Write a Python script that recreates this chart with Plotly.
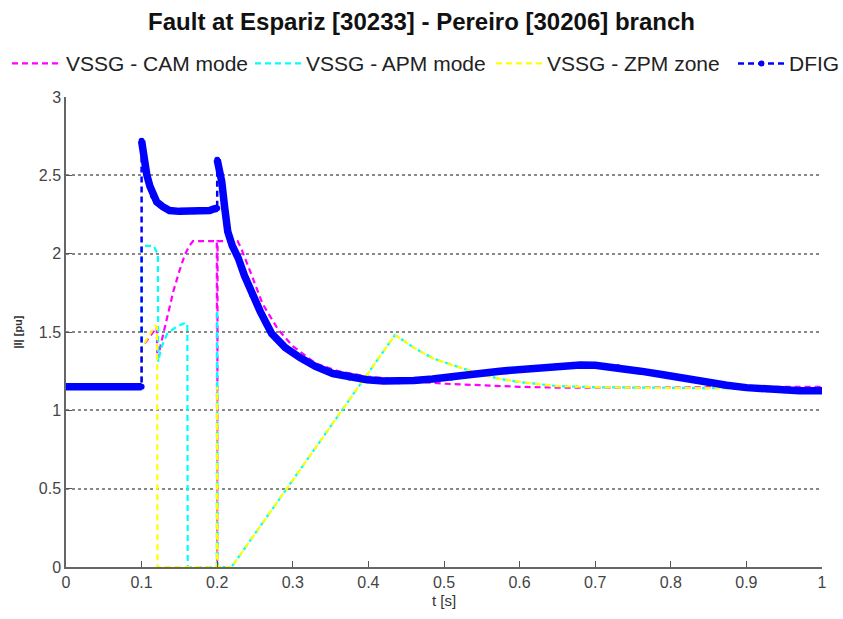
import plotly.graph_objects as go

# VSSG - CAM mode
t_cam = [0.0, 0.1, 0.1, 0.12, 0.121, 0.124, 0.133, 0.142, 0.15, 0.157, 0.163, 0.168,
         0.1995, 0.2, 0.2005, 0.227, 0.232, 0.237, 0.245, 0.26, 0.28, 0.3, 0.33, 0.36,
         0.4, 0.45, 0.5, 0.55, 0.6, 0.65, 0.7, 0.8, 0.9, 1.0]
i_cam = [1.15, 1.15, 1.40, 1.53, 1.33, 1.39, 1.58, 1.76, 1.89, 1.99, 2.05, 2.08,
         2.08, 0.0, 2.08, 2.08, 2.03, 1.97, 1.87, 1.68, 1.52, 1.41, 1.30, 1.25,
         1.215, 1.19, 1.17, 1.16, 1.15, 1.145, 1.145, 1.145, 1.15, 1.15]

# VSSG - APM mode
t_apm = [0.0, 0.1, 0.1, 0.116, 0.12, 0.1215, 0.122, 0.126, 0.134, 0.145, 0.158, 0.1605,
         0.161, 0.1995, 0.2, 0.2005, 0.219, 0.435, 0.442, 0.46, 0.486, 0.51, 0.53, 0.55,
         0.574, 0.6, 0.618, 0.65, 0.706, 0.8, 0.9, 1.0]
i_apm = [1.15, 1.15, 2.05, 2.05, 2.01, 2.0, 1.31, 1.40, 1.49, 1.53, 1.56, 1.55,
         0.0, 0.0, 1.64, 0.0, 0.0, 1.48, 1.46, 1.40, 1.33, 1.29, 1.26, 1.23,
         1.20, 1.18, 1.17, 1.155, 1.147, 1.142, 1.14, 1.14]

# VSSG - ZPM zone
t_zpm = [0.0, 0.1, 0.1, 0.105, 0.11, 0.118, 0.1205, 0.121, 0.1995, 0.2, 0.2005, 0.219,
         0.435, 0.442, 0.46, 0.486, 0.51, 0.53, 0.55, 0.574, 0.6, 0.618, 0.65, 0.706,
         0.8, 0.9, 1.0]
i_zpm = [1.15, 1.15, 1.40, 1.44, 1.48, 1.54, 1.53, 0.0, 0.0, 1.15, 0.0, 0.0,
         1.48, 1.46, 1.40, 1.33, 1.29, 1.26, 1.23, 1.20, 1.18, 1.17, 1.155, 1.147,
         1.142, 1.14, 1.14]

# DFIG
t_dfig = [0.0, 0.1, 0.1, 0.102, 0.104, 0.107, 0.111, 0.115, 0.12, 0.128, 0.137, 0.15,
          0.17, 0.19, 0.195, 0.2, 0.2, 0.201, 0.206, 0.21, 0.214, 0.22, 0.228, 0.236,
          0.246, 0.257, 0.272, 0.29, 0.31, 0.33, 0.353, 0.375, 0.398, 0.42, 0.44, 0.46,
          0.485, 0.51, 0.53, 0.574, 0.618, 0.65, 0.68, 0.7, 0.73, 0.76, 0.786, 0.82,
          0.85, 0.874, 0.9, 0.927, 0.95, 0.97, 1.0]
i_dfig = [1.15, 1.15, 2.72, 2.64, 2.57, 2.50, 2.43, 2.37, 2.33, 2.30, 2.275, 2.27,
          2.27, 2.275, 2.285, 2.29, 2.60, 2.58, 2.46, 2.29, 2.14, 2.05, 1.97, 1.86,
          1.74, 1.63, 1.49, 1.40, 1.335, 1.28, 1.235, 1.21, 1.195, 1.187, 1.185, 1.19,
          1.20, 1.21, 1.225, 1.25, 1.27, 1.283, 1.29, 1.288, 1.275, 1.25, 1.23, 1.20,
          1.175, 1.16, 1.145, 1.134, 1.128, 1.125, 1.125]

series_names = ["VSSG - CAM mode", "VSSG - APM mode", "VSSG - ZPM zone", "DFIG"]
series_colors = ["#ff00ff", "#00ffff", "#ffff00", "#0000ff"]

x_ticks = [0, 0.1, 0.2, 0.3, 0.4, 0.5, 0.6, 0.7, 0.8, 0.9, 1]
x_tick_text = ["0", "0.1", "0.2", "0.3", "0.4", "0.5", "0.6", "0.7", "0.8", "0.9", "1"]
y_ticks = [0, 0.5, 1, 1.5, 2, 2.5, 3]
y_tick_text = ["0", "0.5", "1", "1.5", "2", "2.5", "3"]

FONT = "Liberation Sans, Arial, sans-serif"
DASH = "6px,4px"
W, H = 843, 619
ML, MR, MT, MB = 66, 21, 97, 46
PW, PH = W - ML - MR, H - MT - MB

fig = go.Figure()

for t, i, name, col in zip([t_cam, t_apm, t_zpm], [i_cam, i_apm, i_zpm],
                           series_names[:3], series_colors[:3]):
    fig.add_trace(go.Scatter(x=t, y=i, mode="lines", name=name, showlegend=False,
                             line=dict(color=col, width=2.2, dash=DASH)))

# Dense marker band of the DFIG trace: broken at the step changes (repeated t)
band_x, band_y = [], []
for k, (tt, ii) in enumerate(zip(t_dfig, i_dfig)):
    if k > 0 and tt == t_dfig[k - 1]:
        band_x.append(None)
        band_y.append(None)
    band_x.append(tt)
    band_y.append(ii)

fig.add_trace(go.Scatter(x=band_x, y=band_y, mode="lines", showlegend=False,
                         hoverinfo="skip",
                         line=dict(color=series_colors[3], width=7.5)))
fig.add_trace(go.Scatter(x=t_dfig, y=i_dfig, mode="lines+markers", name=series_names[3],
                         showlegend=False,
                         line=dict(color=series_colors[3], width=2.5, dash=DASH),
                         marker=dict(color=series_colors[3], size=6)))


# Legend row above the axes, laid out in pixels
def px_x(px):
    return (px - ML) / PW


def px_y(py):
    return (H - MB - py) / PH


legend_row_y = 63
legend_samples = [(12, 60), (255, 301), (496, 543), (738, 785)]
legend_text_x = [64, 304, 545, 787]
for (x0, x1), tx, name, col in zip(legend_samples, legend_text_x,
                                   series_names, series_colors):
    is_dfig = name == "DFIG"
    fig.add_shape(type="line", xref="paper", yref="paper",
                  x0=px_x(x0), x1=px_x(x1), y0=px_y(legend_row_y), y1=px_y(legend_row_y),
                  line=dict(color=col, width=2.5 if is_dfig else 2.2, dash=DASH))
    if is_dfig:
        cx = (x0 + x1) / 2
        fig.add_shape(type="circle", xref="paper", yref="paper",
                      x0=px_x(cx - 3), x1=px_x(cx + 3),
                      y0=px_y(legend_row_y + 3), y1=px_y(legend_row_y - 3),
                      line=dict(width=0), fillcolor=col)
    fig.add_annotation(text=name, xref="paper", yref="paper",
                       x=px_x(tx), y=px_y(legend_row_y), xanchor="left", yanchor="middle",
                       showarrow=False, font=dict(family=FONT, size=21, color="#222"))

fig.update_layout(
    width=W, height=H,
    margin=dict(l=ML, r=MR, t=MT, b=MB),
    paper_bgcolor="white", plot_bgcolor="white",
    font=dict(family=FONT, color="#333"),
    title=dict(text="<b>Fault at Espariz [30233] - Pereiro [30206] branch</b>",
               x=0.5, xanchor="center", y=1 - 22 / H, yanchor="middle",
               font=dict(family=FONT, size=24, color="#111")),
    showlegend=False,
)

fig.update_xaxes(range=[0, 1], tickvals=x_ticks, ticktext=x_tick_text,
                 showgrid=False, zeroline=False, showline=True,
                 linecolor="#666", linewidth=1.5, ticks="inside", ticklen=6,
                 tickcolor="#555", tickfont=dict(family=FONT, size=16, color="#444"),
                 title=dict(text="t [s]", standoff=6,
                            font=dict(family=FONT, size=15, color="#333")))
fig.update_yaxes(range=[0, 3], tickvals=y_ticks, ticktext=y_tick_text,
                 showgrid=True, gridcolor="#888", gridwidth=1.5, griddash="3px,3px",
                 zeroline=False, showline=True,
                 linecolor="#666", linewidth=1.5, ticks="inside", ticklen=6,
                 tickcolor="#555", tickfont=dict(family=FONT, size=16, color="#444"),
                 title=dict(text="<b>|I| [pu]</b>", standoff=14,
                            font=dict(family=FONT, size=11, color="#333")))

fig.write_html("out.html")
